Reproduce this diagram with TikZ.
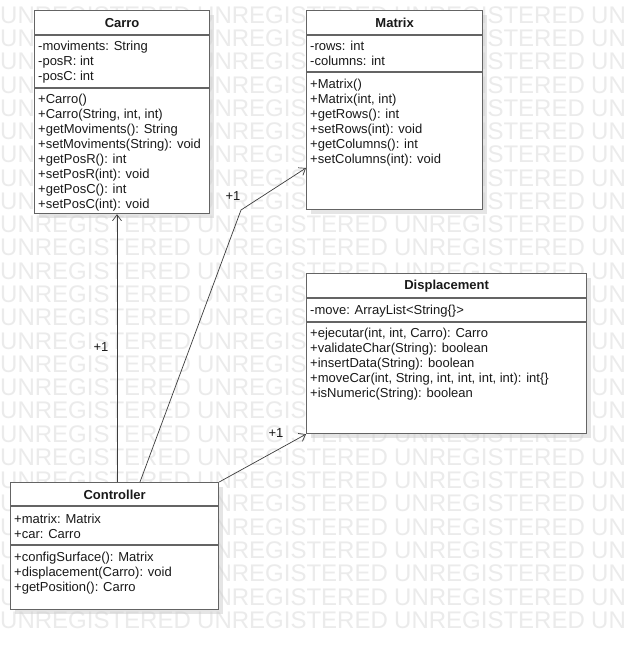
\documentclass[tikz,border=0pt]{standalone}
\usepackage{fontspec}
\setmainfont{Liberation Sans}
\usetikzlibrary{arrows.meta, positioning, calc, shadows}
\definecolor{umlline}{RGB}{100,100,100}
\definecolor{umlwire}{RGB}{60,60,60}
\definecolor{umltext}{RGB}{25,25,25}
\definecolor{wmgray}{RGB}{235,235,235}
\definecolor{shadowgray}{RGB}{205,205,205}
\newcommand{\umlfont}{\fontsize{13}{15}\selectfont}
\tikzset{
  classbox/.style={rectangle, draw=umlline, fill=white, line width=1.2pt,
    anchor=north west, inner sep=0pt,
    drop shadow={shadow xshift=4pt, shadow yshift=-4pt, fill=shadowgray, opacity=0.5}},
  classname/.style={font=\umlfont\bfseries, text=umltext, inner sep=0pt},
  members/.style={anchor=north west, align=left, inner xsep=4pt, inner ysep=0pt,
    font=\umlfont, text=umltext, execute at begin node=\strut},
  sect/.style={draw=umlline, line width=1.2pt},
  assoc/.style={-{Straight Barb[length=6pt, width=9pt]}, line width=0.7pt, draw=umlwire},
  mult/.style={font=\umlfont, text=umltext, inner sep=0pt},
  wmark/.style={anchor=west, inner sep=0pt, text=wmgray, font=\fontsize{24}{24}\selectfont}
}
\begin{document}
\begin{tikzpicture}[x=1pt, y=-1pt]
  \useasboundingbox (0,0) rectangle (626,650);
  \clip (0,0) rectangle (626,650);
  \fill[white] (0,0) rectangle (626,650);

  % watermark
  \foreach \r in {0,...,26}
    \foreach \c in {0,...,3}
      \node[wmark] at (\c*197, 15+\r*23.27) {UNREGISTERED};

  % Carro
  \node[classbox, minimum width=175, minimum height=203] (carro) at (34,10) {};
  \draw[sect] ([yshift=-25pt]carro.north west) -- ([yshift=-25pt]carro.north east);
  \draw[sect] ([yshift=-78pt]carro.north west) -- ([yshift=-78pt]carro.north east);
  \node[classname] (carrotitle) at ([yshift=-13pt]carro.north) {Carro};
  \node[members] (carroattr) at ([yshift=-31pt]carro.north west)
    {-moviments: String\\-posR: int\\-posC: int};
  \node[members] (carroops) at ([yshift=-84pt]carro.north west)
    {+Carro()\\+Carro(String, int, int)\\+getMoviments(): String\\+setMoviments(String): void\\
     +getPosR(): int\\+setPosR(int): void\\+getPosC(): int\\+setPosC(int): void};

  % Matrix
  \node[classbox, minimum width=176, minimum height=199] (matrix) at (306,10) {};
  \draw[sect] ([yshift=-25pt]matrix.north west) -- ([yshift=-25pt]matrix.north east);
  \draw[sect] ([yshift=-62pt]matrix.north west) -- ([yshift=-62pt]matrix.north east);
  \node[classname] (matrixtitle) at ([yshift=-13pt]matrix.north) {Matrix};
  \node[members] (matrixattr) at ([yshift=-31pt]matrix.north west)
    {-rows: int\\-columns: int};
  \node[members] (matrixops) at ([yshift=-69pt]matrix.north west)
    {+Matrix()\\+Matrix(int, int)\\+getRows(): int\\+setRows(int): void\\
     +getColumns(): int\\+setColumns(int): void};

  % Displacement
  \node[classbox, minimum width=280, minimum height=160] (disp) at (306,273) {};
  \draw[sect] ([yshift=-25pt]disp.north west) -- ([yshift=-25pt]disp.north east);
  \draw[sect] ([yshift=-49pt]disp.north west) -- ([yshift=-49pt]disp.north east);
  \node[classname] (disptitle) at ([yshift=-13pt]disp.north) {Displacement};
  \node[members] (dispattr) at ([yshift=-31pt]disp.north west)
    {-move: ArrayList<String\{\}>};
  \node[members] (dispops) at ([yshift=-55pt]disp.north west)
    {+ejecutar(int, int, Carro): Carro\\+validateChar(String): boolean\\
     +insertData(String): boolean\\+moveCar(int, String, int, int, int, int): int\{\}\\
     +isNumeric(String): boolean};

  % Controller
  \node[classbox, minimum width=208, minimum height=127] (ctrl) at (10,482) {};
  \draw[sect] ([yshift=-24pt]ctrl.north west) -- ([yshift=-24pt]ctrl.north east);
  \draw[sect] ([yshift=-63pt]ctrl.north west) -- ([yshift=-63pt]ctrl.north east);
  \node[classname] (ctrltitle) at ([yshift=-13pt]ctrl.north) {Controller};
  \node[members] (ctrlattr) at ([yshift=-31.5pt]ctrl.north west)
    {+matrix: Matrix\\+car: Carro};
  \node[members] (ctrlops) at ([yshift=-69.5pt]ctrl.north west)
    {+configSurface(): Matrix\\+displacement(Carro): void\\+getPosition(): Carro};

  % associations
  \coordinate (bend) at (241,210);
  \draw[assoc] ([xshift=107pt]ctrl.north west) -- ([xshift=83pt]carro.south west);
  \draw[assoc] ([xshift=130pt]ctrl.north west) -- (bend) -- ([yshift=-158pt]matrix.north west);
  \draw[assoc] (ctrl.north east) -- (disp.south west);

  % multiplicities
  \node[mult] (m1) at (101,347) {+1};
  \node[mult] (m2) at (233,196) {+1};
  \node[mult] (m3) at (276,433) {+1};
\end{tikzpicture}
\end{document}
